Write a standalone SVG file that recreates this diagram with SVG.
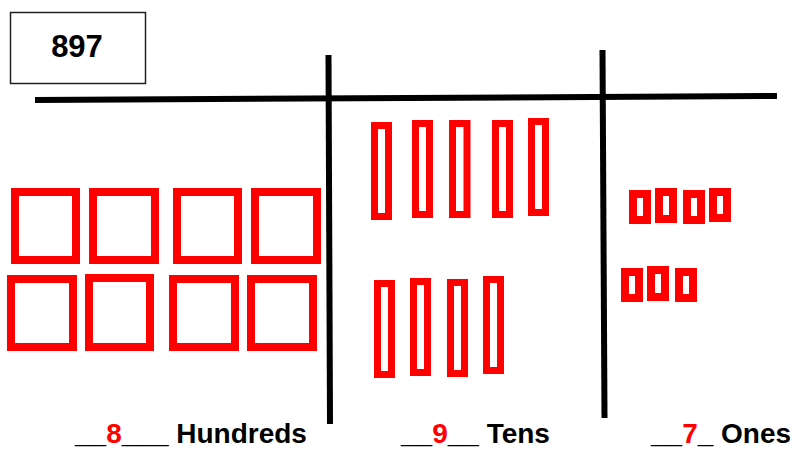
<svg xmlns="http://www.w3.org/2000/svg" width="795" height="451" viewBox="0 0 795 451">
  <style>
    .sq { fill: none; stroke: #ff0000; stroke-width: 8; }
    .bar { fill: none; stroke: #ff0000; stroke-width: 7; }
    .cube { fill: none; stroke: #ff0000; stroke-width: 8; }
    .line { stroke: #000; stroke-width: 6; fill: none; }
    .lbl { font-family: "Liberation Sans", Arial, sans-serif; font-weight: bold; font-size: 28px; fill: #000; }
    .red { fill: #ff0000; }
  </style>
  <rect width="795" height="451" fill="#fff"/>

  <g id="number-box">
    <rect x="10.5" y="12.5" width="135" height="71" fill="#fff" stroke="#222" stroke-width="1.5"/>
    <text x="77" y="57" text-anchor="middle" font-family="Liberation Sans, Arial, sans-serif" font-weight="bold" font-size="31px" fill="#000">897</text>
  </g>

  <g id="connectors">
    <line class="line" x1="35" y1="100" x2="777" y2="96"/>
    <line class="line" x1="328.5" y1="55" x2="330" y2="424"/>
    <line class="line" x1="602.5" y1="50" x2="604.5" y2="418"/>
  </g>

  <g id="hundreds">
    <rect id="h1" class="sq" x="15" y="192" width="61" height="68"/>
    <rect id="h2" class="sq" x="93" y="192" width="62" height="68"/>
    <rect id="h3" class="sq" x="177" y="192" width="61" height="68"/>
    <rect id="h4" class="sq" x="255" y="192" width="62" height="68"/>
    <rect id="h5" class="sq" x="11" y="279" width="62" height="68"/>
    <rect id="h6" class="sq" x="89" y="278" width="61" height="69"/>
    <rect id="h7" class="sq" x="173" y="279" width="62" height="68"/>
    <rect id="h8" class="sq" x="251" y="279" width="62" height="68"/>
  </g>

  <g id="tens">
    <rect id="t1" class="bar" x="374.5" y="125.5" width="14" height="91"/>
    <rect id="t2" class="bar" x="415.5" y="123.5" width="14" height="91"/>
    <rect id="t3" class="bar" x="452.5" y="123.5" width="14.5" height="91"/>
    <rect id="t4" class="bar" x="495.5" y="123.5" width="14" height="91"/>
    <rect id="t5" class="bar" x="531.5" y="121.5" width="14" height="91"/>
    <rect id="t6" class="bar" x="377.5" y="283.5" width="14" height="91"/>
    <rect id="t7" class="bar" x="413.5" y="281.5" width="14" height="91"/>
    <rect id="t8" class="bar" x="450.5" y="282.5" width="14" height="91"/>
    <rect id="t9" class="bar" x="486.5" y="279.5" width="14" height="91"/>
  </g>

  <g id="ones">
    <rect id="o1" class="cube" x="633" y="194" width="14" height="26"/>
    <rect id="o2" class="cube" x="659" y="192" width="14" height="27"/>
    <rect id="o3" class="cube" x="687" y="194" width="14" height="26"/>
    <rect id="o4" class="cube" x="713" y="192" width="14" height="26"/>
    <rect id="o5" class="cube" x="625" y="272" width="14" height="26"/>
    <rect id="o6" class="cube" x="651" y="270" width="14" height="27"/>
    <rect id="o7" class="cube" x="679" y="272" width="14" height="26"/>
  </g>

  <g id="labels">
    <text class="lbl" x="75" y="443">__<tspan class="red">8</tspan>___ Hundreds</text>
    <text class="lbl" x="401" y="443">__<tspan class="red">9</tspan>__ Tens</text>
    <text class="lbl" x="651" y="443">__<tspan class="red">7</tspan>_ Ones</text>
  </g>
</svg>
